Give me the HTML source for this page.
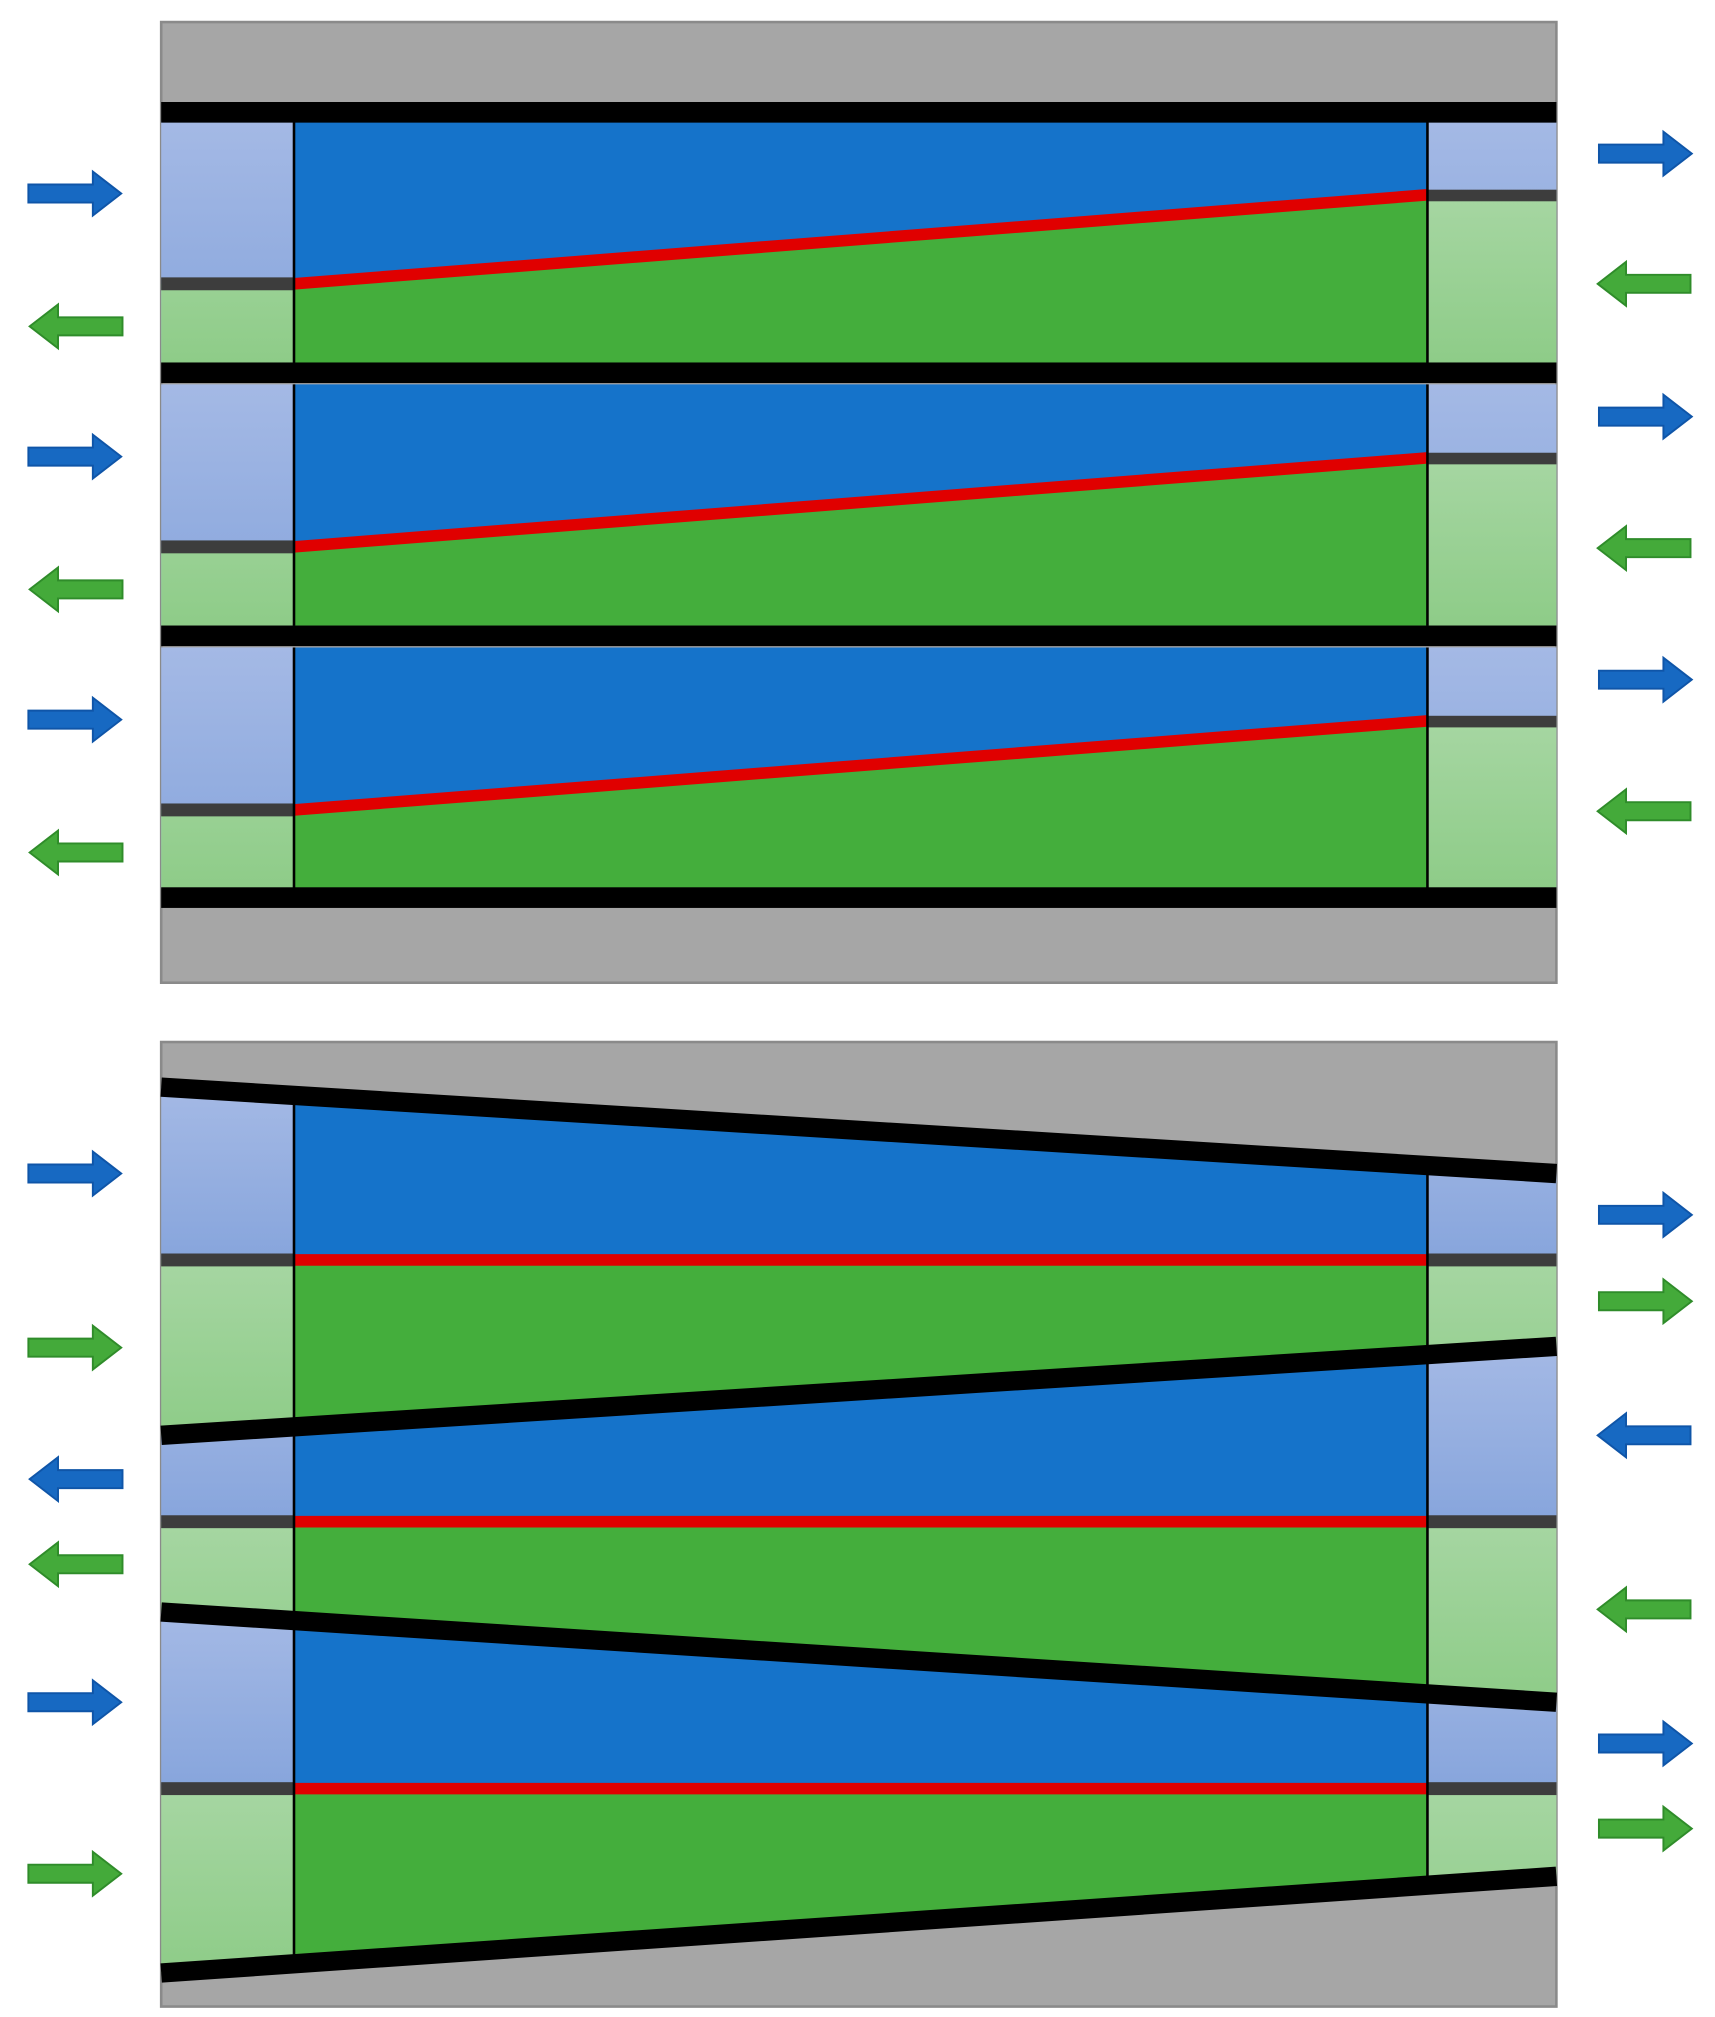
<!DOCTYPE html>
<html><head><style>html,body{margin:0;padding:0;background:#fff}svg{display:block}</style></head><body>
<svg width="1715" height="2017" viewBox="0 0 1330 1564" xmlns="http://www.w3.org/2000/svg">
<defs>
<path id="ab" d="M0,-7 H50 V-17 L72,0 L50,17 V7 H0 Z" fill="#1769c2" stroke="#0f55a8" stroke-width="1.5"/>
<path id="ag" d="M0,-7 H50 V-17 L72,0 L50,17 V7 H0 Z" fill="#44aa3a" stroke="#2f8c2a" stroke-width="1.5"/>
<linearGradient id="lb" x1="0" y1="0" x2="0" y2="1"><stop offset="0" stop-color="#a4b9e5"/><stop offset="1" stop-color="#87a5dc"/></linearGradient>
<linearGradient id="lg" x1="0" y1="0" x2="0" y2="1"><stop offset="0" stop-color="#a6d6a2"/><stop offset="1" stop-color="#8ecc88"/></linearGradient>
<clipPath id="mid"><rect x="228" y="0" width="879" height="1564"/></clipPath>
</defs>

<!-- TOP PANEL -->
<rect x="125" y="17" width="1082" height="745" fill="#a6a6a6" stroke="#8a8a8a" stroke-width="2"/>
<g id="ch">
<rect x="125" y="94" width="1082" height="187" fill="url(#lb)"/>
<polygon points="125,220 228,220 1107,151 1207,151 1207,281 125,281" fill="url(#lg)"/>
<polygon points="228,94 1107,94 1107,151 228,220" fill="#1573ca"/>
<polygon points="228,220 1107,151 1107,281 228,281" fill="#44ae3c"/>
<rect x="125" y="215" width="103" height="10" fill="#3d3d3d"/>
<rect x="1107" y="147" width="100" height="9" fill="#3d3d3d"/>
<line x1="228" y1="220" x2="1107" y2="151" stroke="#e00000" stroke-width="9"/>
<line x1="228" y1="94" x2="228" y2="281" stroke="#000" stroke-width="2"/>
<line x1="1107" y1="94" x2="1107" y2="281" stroke="#000" stroke-width="2"/>
</g>
<use href="#ch" transform="translate(0,204)"/>
<use href="#ch" transform="translate(0,408)"/>
<rect x="125" y="79" width="1082" height="16" fill="#000"/>
<rect x="125" y="281" width="1082" height="16" fill="#000"/>
<rect x="125" y="485" width="1082" height="16" fill="#000"/>
<rect x="125" y="688" width="1082" height="16" fill="#000"/>

<use href="#ab" transform="translate(22,150)"/>
<use href="#ag" transform="translate(95,253) scale(-1,1)"/>
<use href="#ab" transform="translate(22,354)"/>
<use href="#ag" transform="translate(95,457) scale(-1,1)"/>
<use href="#ab" transform="translate(22,558)"/>
<use href="#ag" transform="translate(95,661) scale(-1,1)"/>
<use href="#ab" transform="translate(1240,119)"/>
<use href="#ag" transform="translate(1311,220) scale(-1,1)"/>
<use href="#ab" transform="translate(1240,323)"/>
<use href="#ag" transform="translate(1311,425) scale(-1,1)"/>
<use href="#ab" transform="translate(1240,527)"/>
<use href="#ag" transform="translate(1311,629) scale(-1,1)"/>

<!-- BOTTOM PANEL -->
<rect x="125" y="808" width="1082" height="748" fill="#a6a6a6" stroke="#8a8a8a" stroke-width="2"/>
<g id="light">
<polygon points="125,843 1207,910 1207,977 125,977" fill="url(#lb)"/>
<polygon points="125,977 1207,977 1207,1044 125,1113" fill="url(#lg)"/>
<polygon points="125,1113 1207,1044 1207,1180 125,1180" fill="url(#lb)"/>
<polygon points="125,1180 1207,1180 1207,1320 125,1250" fill="url(#lg)"/>
<polygon points="125,1250 1207,1320 1207,1387 125,1387" fill="url(#lb)"/>
<polygon points="125,1387 1207,1387 1207,1455 125,1530" fill="url(#lg)"/>
</g>
<g clip-path="url(#mid)">
<polygon points="125,843 1207,910 1207,977 125,977" fill="#1573ca"/>
<polygon points="125,977 1207,977 1207,1044 125,1113" fill="#44ae3c"/>
<polygon points="125,1113 1207,1044 1207,1180 125,1180" fill="#1573ca"/>
<polygon points="125,1180 1207,1180 1207,1320 125,1250" fill="#44ae3c"/>
<polygon points="125,1250 1207,1320 1207,1387 125,1387" fill="#1573ca"/>
<polygon points="125,1387 1207,1387 1207,1455 125,1530" fill="#44ae3c"/>
</g>
<g fill="#3d3d3d">
<rect x="125" y="972" width="103" height="10"/><rect x="1107" y="972" width="100" height="10"/>
<rect x="125" y="1175" width="103" height="10"/><rect x="1107" y="1175" width="100" height="10"/>
<rect x="125" y="1382" width="103" height="10"/><rect x="1107" y="1382" width="100" height="10"/>
</g>
<g stroke="#e00000" stroke-width="9">
<line x1="228" y1="977" x2="1107" y2="977"/>
<line x1="228" y1="1180" x2="1107" y2="1180"/>
<line x1="228" y1="1387" x2="1107" y2="1387"/>
</g>
<line x1="228" y1="850" x2="228" y2="1523" stroke="#000" stroke-width="2"/>
<line x1="1107" y1="905" x2="1107" y2="1460" stroke="#000" stroke-width="2"/>
<g stroke="#000" stroke-width="15" stroke-linecap="butt">
<line x1="125" y1="843" x2="1207" y2="910"/>
<line x1="125" y1="1113" x2="1207" y2="1044"/>
<line x1="125" y1="1250" x2="1207" y2="1320"/>
<line x1="125" y1="1530" x2="1207" y2="1455"/>
</g>

<use href="#ab" transform="translate(22,910)"/>
<use href="#ag" transform="translate(22,1045)"/>
<use href="#ab" transform="translate(95,1147) scale(-1,1)"/>
<use href="#ag" transform="translate(95,1213) scale(-1,1)"/>
<use href="#ab" transform="translate(22,1320)"/>
<use href="#ag" transform="translate(22,1453)"/>
<use href="#ab" transform="translate(1240,942)"/>
<use href="#ag" transform="translate(1240,1009)"/>
<use href="#ab" transform="translate(1311,1113) scale(-1,1)"/>
<use href="#ag" transform="translate(1311,1248) scale(-1,1)"/>
<use href="#ab" transform="translate(1240,1352)"/>
<use href="#ag" transform="translate(1240,1418)"/>
</svg>
</body></html>
